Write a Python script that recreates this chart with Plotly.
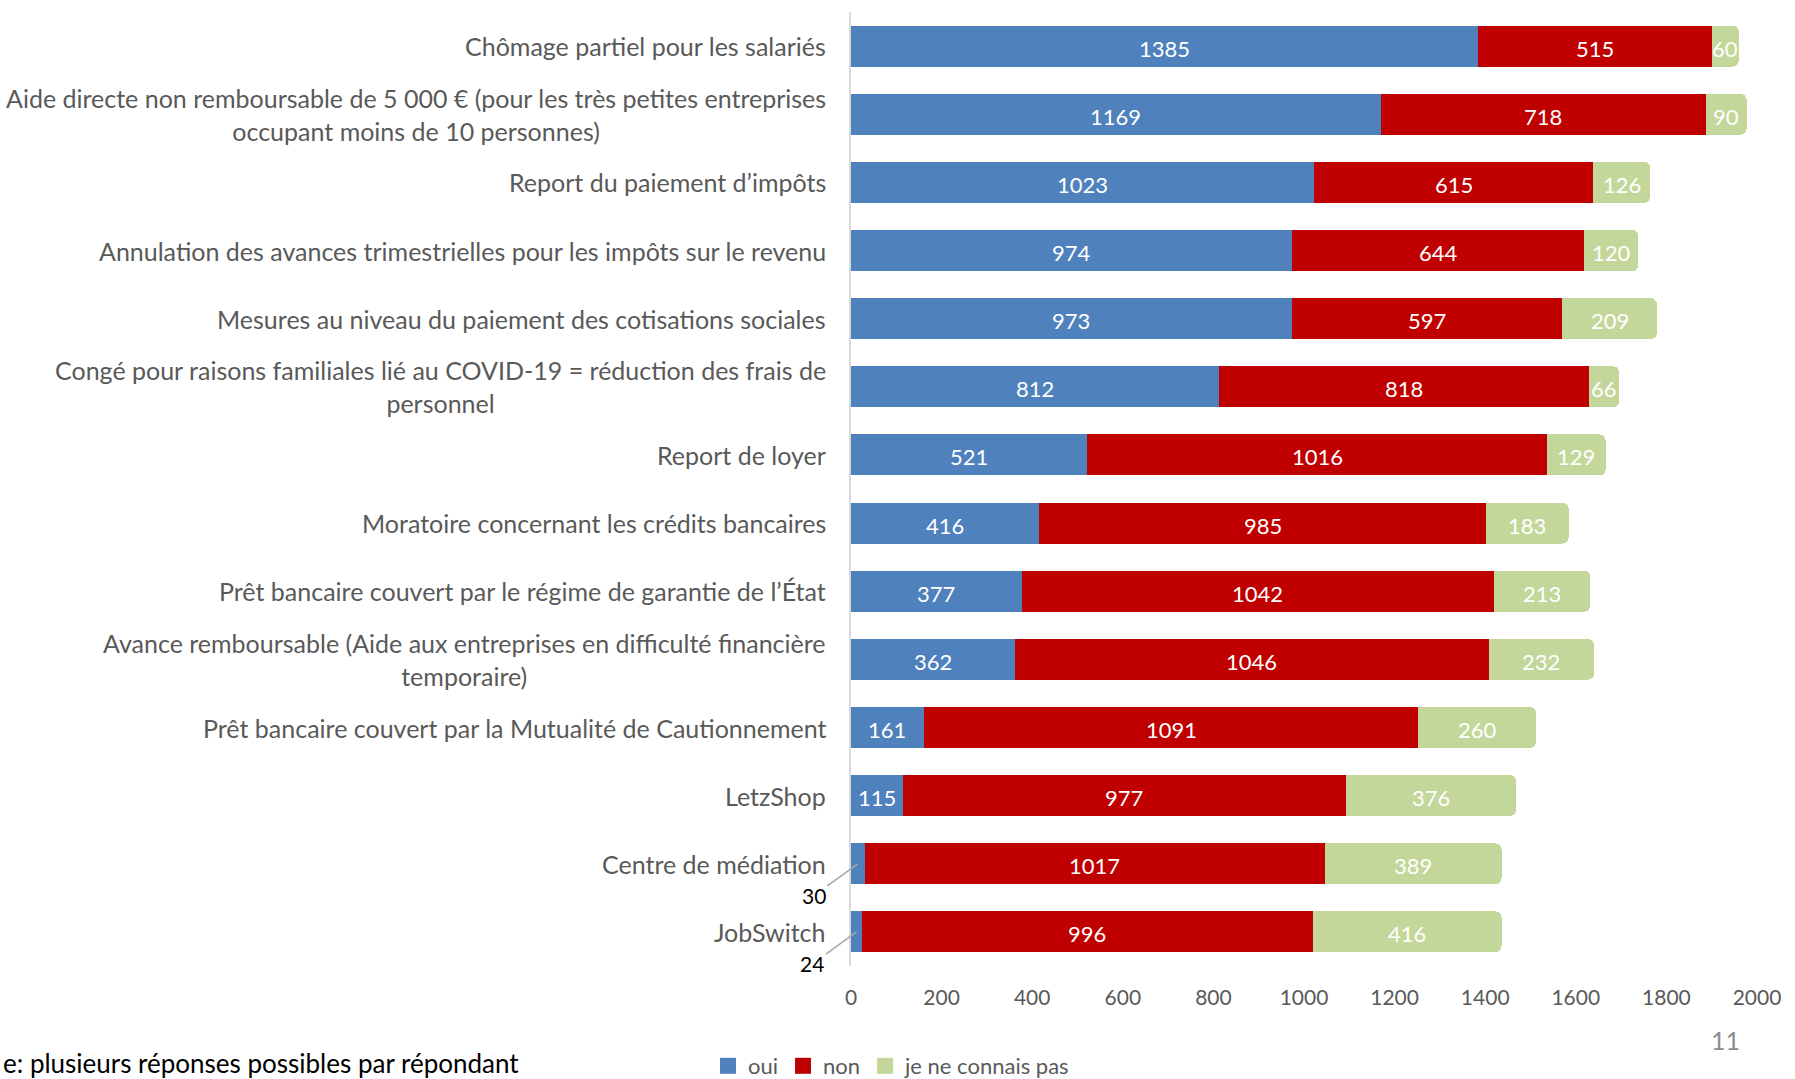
import plotly.graph_objects as go

CATEGORIES = [
    "Chômage partiel pour les salariés",
    "Aide directe non remboursable de 5 000 € (pour les très petites entreprises<br>occupant moins de 10 personnes)",
    "Report du paiement d’impôts",
    "Annulation des avances trimestrielles pour les impôts sur le revenu",
    "Mesures au niveau du paiement des cotisations sociales",
    "Congé pour raisons familiales lié au COVID-19 = réduction des frais de<br>personnel",
    "Report de loyer",
    "Moratoire concernant les crédits bancaires",
    "Prêt bancaire couvert par le régime de garantie de l’État",
    "Avance remboursable (Aide aux entreprises en difficulté financière<br>temporaire)",
    "Prêt bancaire couvert par la Mutualité de Cautionnement",
    "LetzShop",
    "Centre de médiation",
    "JobSwitch",
]
OUI = [1385, 1169, 1023, 974, 973, 812, 521, 416, 377, 362, 161, 115, 30, 24]
NON = [515, 718, 615, 644, 597, 818, 1016, 985, 1042, 1046, 1091, 977, 1017, 996]
NSP = [60, 90, 126, 120, 209, 66, 129, 183, 213, 232, 260, 376, 389, 416]
X_TICKS = [0, 200, 400, 600, 800, 1000, 1200, 1400, 1600, 1800, 2000]

_BLUE = "#4f81bd"
_RED = "#c00000"
_GREEN = "#c4d79b"
_GREY = "#595959"
FONT = "Lato"

W, H = 1795, 1079
L, R, T, B = 851, 38, 12, 113
plot_w, plot_h = W - L - R, H - T - B


def px_x(px):
    return (px - L) / plot_w


def px_y(py):
    return (H - B - py) / plot_h


keys = list(range(len(CATEGORIES)))
series = [("oui", OUI, _BLUE), ("non", NON, _RED),
          ("je ne connais pas", NSP, _GREEN)]

fig = go.Figure()
annotations = []
base = [0] * len(keys)
for name, vals, col in series:
    fig.add_trace(go.Bar(
        y=keys, x=vals, orientation="h", name=name, showlegend=False,
        marker=dict(color=col, line=dict(width=0), cornerradius=6),
        hoverinfo="x+name",
    ))
    # legend swatch (bigger than the default bar swatch)
    fig.add_trace(go.Scatter(
        x=[None], y=[None], mode="markers", name=name,
        marker=dict(color=col, symbol="square", size=16)))
    # segment labels centred on each segment (small "oui" ones go outside)
    for k, b, v in zip(keys, base, vals):
        if v >= 50:
            annotations.append(dict(
                x=b + v / 2, y=k, xref="x", yref="y", text=str(v),
                showarrow=False, yshift=-2,
                font=dict(family=FONT, size=22, color="white")))
    base = [b + v for b, v in zip(base, vals)]

for k, cat in zip(keys, CATEGORIES):
    annotations.append(dict(
        xref="paper", yref="y", x=0, y=k, xshift=-23, xanchor="right",
        text=cat, showarrow=False, align="center",
        font=dict(family=FONT, size=25, color=_GREY)))

for k, v in zip(keys, OUI):
    if v < 50:
        annotations.append(dict(
            x=v / 2, y=k, xref="x", yref="y", text=str(v),
            showarrow=True, arrowhead=0, arrowwidth=1.5, arrowcolor="#a6a6a6",
            ax=-44, ay=32, font=dict(family=FONT, size=21, color="black")))

annotations.append(dict(
    xref="paper", yref="paper", x=px_x(1), y=px_y(1063), xanchor="left",
    yanchor="middle", showarrow=False,
    text="e: plusieurs réponses possibles par répondant",
    font=dict(family=FONT, size=26, color="black")))
annotations.append(dict(
    xref="paper", yref="paper", x=px_x(1725), y=px_y(1040), xanchor="center",
    yanchor="middle", showarrow=False, text="11",
    font=dict(family=FONT, size=25, color="#8c8c8c")))

fig.update_layout(
    width=W, height=H,
    barmode="stack", bargap=0.4,
    plot_bgcolor="white", paper_bgcolor="white",
    margin=dict(l=L, r=R, t=T, b=B, autoexpand=False),
    font=dict(family=FONT, color=_GREY),
    xaxis=dict(range=[0, 2000], tickvals=X_TICKS, showgrid=False,
               zeroline=False, showline=False, ticks="",
               ticklabelstandoff=17,
               tickfont=dict(family=FONT, size=21, color=_GREY)),
    yaxis=dict(range=[len(CATEGORIES) - 0.5, -0.5], showticklabels=False,
               showgrid=False, zeroline=False, showline=True,
               linecolor="#d9d9d9", linewidth=1.5, ticks=""),
    legend=dict(orientation="h", x=px_x(708), y=px_y(1066),
                xanchor="left", yanchor="middle", traceorder="normal",
                font=dict(family=FONT, size=22, color=_GREY),
                itemwidth=30, tracegroupgap=0),
    annotations=annotations,
)

fig.write_html("out.html", config={"displayModeBar": False},
               post_script="document.body.style.margin='0';")
